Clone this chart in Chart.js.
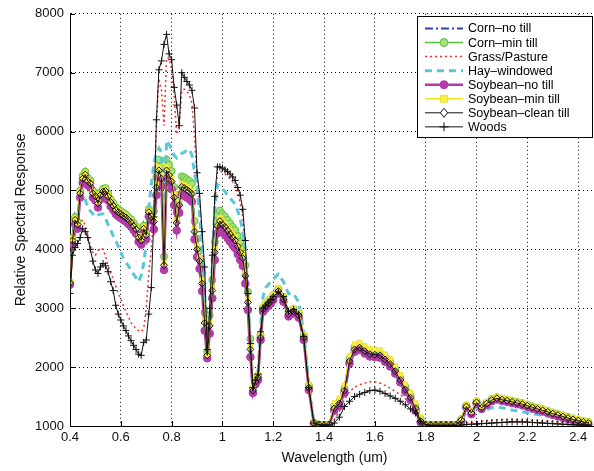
<!DOCTYPE html>
<html><head><meta charset="utf-8">
<script src="https://cdn.jsdelivr.net/npm/chart.js@4.4.0/dist/chart.umd.min.js"></script>
<style>html,body{margin:0;padding:0;background:#fff;overflow:hidden;}#wrap{width:594px;height:471px;overflow:hidden;}</style>
</head><body><div id="wrap"><canvas id="c" width="604" height="471"></canvas></div>
<script>
// Wavelength (um)
const wavelengths = [
0.40,0.41,0.42,0.43,0.44,0.45,0.46,0.47,0.48,0.49,
0.50,0.51,0.52,0.53,0.54,0.55,0.56,0.57,0.58,0.59,
0.60,0.61,0.62,0.63,0.64,0.65,0.66,0.67,0.68,0.69,
0.70,0.71,0.72,0.73,0.74,0.75,0.76,0.77,0.78,0.79,
0.80,0.81,0.82,0.83,0.84,0.85,0.86,0.87,0.88,0.89,
0.90,0.91,0.92,0.93,0.94,0.95,0.96,0.97,0.98,0.99,
1.00,1.01,1.02,1.03,1.04,1.05,1.06,1.07,1.08,1.09,
1.10,1.11,1.12,1.13,1.14,1.15,1.16,1.17,1.18,1.19,
1.20,1.22,1.24,1.26,1.28,1.30,1.32,1.34,1.36,1.38,
1.40,1.42,1.44,1.46,1.48,1.50,1.52,1.54,1.56,1.58,
1.60,1.62,1.64,1.66,1.68,1.70,1.72,1.74,1.76,1.78,
1.80,1.82,1.84,1.86,1.88,1.90,1.92,1.94,1.96,1.98,
2.00,2.02,2.04,2.06,2.08,2.10,2.12,2.14,2.16,2.18,
2.20,2.22,2.24,2.26,2.28,2.30,2.32,2.34,2.36,2.38,
2.40,2.42,2.44];

const cornNoTill = [
3460,4240,4590,4510,5040,5290,5360,5250,5210,5040,
4990,4870,5010,5070,5080,4990,4890,4830,4760,4720,
4690,4660,4630,4590,4550,4490,4430,4290,4240,4440,
4330,4720,4650,4590,5170,5460,5320,3800,5460,5380,
5270,5000,4570,4870,5180,5160,5130,5100,5060,4420,
4120,3920,3540,2870,2230,2820,3420,4070,4520,4600,
4540,4500,4440,4380,4320,4270,4170,4070,3970,3670,
3220,2420,1630,1780,1850,2530,3010,3060,3110,3150,
3210,3320,3180,2930,2980,2910,2530,1680,1055,1020,
1015,1020,1320,1400,1620,2120,2320,2350,2290,2240,
2230,2220,2150,2070,1950,1800,1640,1500,1320,1100,
1020,1015,1015,1015,1015,1015,1020,1110,1340,1230,
1410,1320,1390,1450,1480,1455,1440,1420,1400,1380,
1355,1325,1300,1275,1250,1220,1195,1170,1145,1120,
1100,1080,1060];

const cornMinTill = [
3440,4200,4550,4470,5000,5250,5320,5210,5170,5000,
4950,4830,4970,5030,5040,4950,4850,4790,4720,4680,
4650,4620,4590,4550,4510,4450,4390,4250,4200,4400,
4290,4680,4610,4650,5230,5520,5380,3880,5520,5440,
5330,5060,4630,4930,5240,5220,5190,5160,5120,4480,
4180,3980,3600,2930,2260,2880,3480,4130,4580,4660,
4600,4560,4500,4440,4380,4330,4230,4130,4030,3730,
3280,2480,1640,1790,1860,2540,3020,3070,3120,3160,
3220,3330,3190,2940,2990,2920,2540,1690,1060,1025,
1015,1025,1340,1420,1640,2140,2340,2370,2310,2260,
2250,2240,2170,2090,1970,1820,1660,1520,1340,1120,
1025,1020,1020,1020,1020,1020,1025,1120,1350,1240,
1420,1330,1400,1460,1490,1465,1450,1430,1410,1390,
1365,1335,1310,1285,1260,1230,1205,1180,1155,1130,
1110,1090,1070];

const grassPasture = [
3400,4000,4250,4350,4450,4500,4400,4250,4050,3950,
3900,3980,4020,4000,3880,3720,3600,3500,3380,3250,
3150,3050,2950,2850,2750,2700,2650,2620,2600,2650,
3000,3600,4000,4600,6100,6900,6700,6100,7250,7250,
7050,6600,5950,6100,6700,6720,6680,6620,6480,5900,
5200,4800,4200,3300,2300,2900,3800,4800,5300,5330,
5310,5280,5240,5200,5150,5080,4950,4800,4550,4000,
3250,2400,1650,1780,1880,2600,3000,3050,3100,3140,
3200,3280,3150,2920,2960,2880,2500,1650,1050,1020,
1015,1015,1100,1250,1450,1580,1660,1700,1730,1750,
1750,1730,1690,1640,1590,1530,1460,1380,1280,1100,
1020,1010,1010,1010,1010,1010,1015,1030,1050,1060,
1070,1080,1090,1100,1105,1110,1110,1110,1105,1100,
1100,1095,1090,1085,1080,1075,1070,1060,1050,1045,
1040,1035,1030];

const hayWindowed = [
3450,4100,4400,4500,4900,4950,4850,4700,4650,4600,
4550,4580,4600,4600,4520,4420,4330,4230,4150,4050,
3950,3850,3780,3720,3650,3580,3520,3450,3550,3750,
4100,4700,5100,5450,5650,5720,5650,4100,5850,5780,
5700,5600,5550,5600,5630,5650,5680,5700,5600,5300,
5050,4600,4000,3200,2300,2800,3700,4700,5100,5080,
5030,4980,4920,4870,4820,4770,4650,4520,4300,3800,
3200,2400,1700,1800,1900,2700,3200,3350,3400,3450,
3500,3580,3450,3250,3250,3100,2600,1700,1060,1020,
1015,1020,1280,1350,1550,2050,2250,2280,2220,2170,
2160,2150,2080,2000,1880,1730,1580,1440,1270,1070,
1020,1015,1015,1015,1015,1015,1020,1080,1250,1180,
1300,1250,1280,1310,1320,1310,1290,1270,1255,1240,
1225,1210,1195,1180,1165,1150,1130,1110,1090,1075,
1060,1050,1040];

const soybeanNoTill = [
3400,4080,4430,4350,4880,5130,5200,5090,5050,4880,
4830,4710,4850,4910,4920,4830,4730,4670,4600,4560,
4530,4500,4470,4430,4390,4330,4270,4130,4080,4280,
4170,4560,4490,4340,4920,5210,5070,3650,5210,5130,
5020,4750,4320,4620,4930,4910,4880,4850,4810,4170,
3870,3670,3290,2620,2150,2570,3170,3820,4270,4350,
4290,4250,4190,4130,4070,4020,3920,3820,3720,3420,
2970,2170,1560,1710,1780,2460,2940,2990,3040,3080,
3140,3250,3110,2860,2910,2840,2460,1610,1045,1015,
1010,1015,1260,1340,1560,2060,2260,2290,2230,2180,
2170,2160,2090,2010,1890,1740,1580,1440,1260,1060,
1015,1010,1010,1010,1010,1010,1015,1080,1310,1200,
1380,1290,1360,1420,1450,1425,1410,1390,1370,1350,
1325,1295,1270,1245,1220,1190,1165,1140,1115,1090,
1070,1050,1030];

const soybeanMinTill = [
3450,4180,4530,4450,4980,5230,5300,5190,5150,4980,
4930,4810,4950,5010,5020,4930,4830,4770,4700,4660,
4630,4600,4570,4530,4490,4430,4370,4230,4180,4380,
4270,4660,4590,4530,5110,5400,5260,3770,5400,5320,
5210,4940,4510,4810,5120,5100,5070,5040,5000,4360,
4060,3860,3480,2810,2210,2760,3360,4010,4460,4540,
4480,4440,4380,4320,4260,4210,4110,4010,3910,3610,
3160,2360,1660,1810,1880,2560,3040,3090,3140,3180,
3240,3350,3210,2960,3010,2940,2560,1710,1060,1025,
1020,1025,1390,1470,1690,2190,2390,2420,2360,2310,
2300,2290,2220,2140,2020,1870,1710,1570,1390,1150,
1030,1020,1020,1020,1020,1020,1030,1130,1360,1250,
1430,1340,1410,1470,1500,1475,1460,1440,1420,1400,
1375,1345,1320,1295,1270,1240,1215,1190,1165,1140,
1120,1100,1080];

const soybeanCleanTill = [
3430,4150,4500,4420,4950,5200,5270,5160,5120,4950,
4900,4780,4920,4980,4990,4900,4800,4740,4670,4630,
4600,4570,4540,4500,4460,4400,4340,4200,4150,4350,
4240,4630,4560,4470,5050,5340,5200,3730,5340,5260,
5150,4880,4450,4750,5060,5040,5010,4980,4940,4300,
4000,3800,3420,2750,2200,2700,3300,3950,4400,4480,
4420,4380,4320,4260,4200,4150,4050,3950,3850,3550,
3100,2300,1600,1750,1820,2500,2980,3030,3080,3120,
3180,3290,3150,2900,2950,2880,2500,1650,1050,1020,
1015,1020,1300,1380,1600,2100,2300,2330,2270,2220,
2210,2200,2130,2050,1930,1780,1620,1480,1300,1080,
1020,1015,1015,1015,1015,1015,1020,1100,1330,1220,
1400,1310,1380,1440,1470,1445,1430,1410,1390,1370,
1345,1315,1290,1265,1240,1210,1185,1160,1135,1110,
1090,1070,1050];

const woods = [
3250,3900,4030,4100,4200,4350,4300,4200,4000,3800,
3650,3590,3700,3760,3720,3620,3450,3300,3050,2900,
2800,2700,2620,2530,2450,2370,2300,2220,2200,2420,
2460,2900,3350,4550,6200,7050,7200,7480,7650,7320,
7220,6750,6450,6100,7000,6920,6850,6790,6700,6400,
5300,4950,4300,3700,2300,3000,3900,4900,5400,5400,
5380,5350,5320,5280,5230,5170,5050,4920,4680,4150,
3250,2400,1650,1780,1880,2600,3000,3050,3100,3150,
3200,3280,3200,2950,2980,2900,2520,1650,1050,1020,
1015,1015,1050,1150,1330,1420,1500,1540,1570,1600,
1610,1590,1550,1510,1470,1420,1360,1290,1220,1080,
1020,1010,1010,1010,1010,1010,1010,1015,1025,1030,
1035,1040,1045,1050,1055,1060,1065,1070,1070,1070,
1065,1060,1055,1050,1045,1040,1035,1030,1025,1020,
1020,1015,1015];

const seriesNames = ['Corn\u2013no till','Corn\u2013min till','Grass/Pasture','Hay\u2013windowed',
  'Soybean\u2013no till','Soybean\u2013min till','Soybean\u2013clean till','Woods'];
const xTickValues = [0.4,0.6,0.8,1.0,1.2,1.4,1.6,1.8,2.0,2.2,2.4];
const yTickValues = [1000,2000,3000,4000,5000,6000,7000,8000];

const FONT = '"Liberation Sans", Arial, Helvetica, sans-serif';
const toXY = arr => wavelengths.map((w,i)=>({x:w,y:arr[i]}));

const styles = [
  {data:cornNoTill, color:'#2b44a6', width:2, dash:[8,3,2,3], marker:null, order:7},
  {data:cornMinTill, color:'#58c43a', width:1.5, dash:[], marker:'circle', mfill:'#a6e07a', mr:3.5, order:6},
  {data:grassPasture, color:'#e6372e', width:1.5, dash:[2,3], marker:null, order:5},
  {data:hayWindowed, color:'#5ac6da', width:3, dash:[7,5], marker:null, order:4},
  {data:soybeanNoTill, color:'#b33aa8', width:2.5, dash:[], marker:'circle', mfill:'#b33aa8', mr:3.8, order:3},
  {data:soybeanMinTill, color:'#eee226', width:1.5, dash:[], marker:'rect', mfill:'#f6ee50', mr:3.2, order:2},
  {data:soybeanCleanTill, color:'#111', width:1, dash:[], marker:'rectRot', mfill:'rgba(0,0,0,0)', mr:3.5, order:1},
  {data:woods, color:'#111', width:1, dash:[], marker:'cross', mfill:'#111', mr:3.5, order:0}
];

const datasets = styles.map((s,i)=>({
  label: seriesNames[i],
  data: toXY(s.data),
  borderColor: s.color,
  borderWidth: s.width,
  borderDash: s.dash,
  pointStyle: s.marker || 'circle',
  pointRadius: s.marker ? s.mr : 0,
  pointBackgroundColor: s.marker ? s.mfill : s.color,
  pointBorderColor: s.color,
  pointBorderWidth: 1,
  tension: 0,
  fill: false,
  order: s.order
}));

const inwardTicks = {
  id:'inwardTicks',
  beforeDatasetsDraw(chart){
    const {ctx, chartArea:a, scales:{x,y}} = chart;
    ctx.save(); ctx.strokeStyle='#000'; ctx.lineWidth=1; ctx.beginPath();
    xTickValues.forEach(v=>{const p=Math.round(x.getPixelForValue(v))+0.5; ctx.moveTo(p,a.bottom); ctx.lineTo(p,a.bottom-5);});
    yTickValues.forEach(v=>{const p=Math.round(y.getPixelForValue(v))+0.5; ctx.moveTo(a.left,p); ctx.lineTo(a.left+5,p);});
    ctx.stroke(); ctx.restore();
  }
};

function drawMarker(ctx, type, cx, cy, r, stroke, fill){
  ctx.save(); ctx.setLineDash([]); ctx.lineWidth=1; ctx.strokeStyle=stroke; ctx.fillStyle=fill;
  ctx.beginPath();
  if(type==='circle'){ctx.arc(cx,cy,r,0,Math.PI*2); ctx.fill(); ctx.stroke();}
  else if(type==='rect'){ctx.rect(cx-r,cy-r,2*r,2*r); ctx.fill(); ctx.stroke();}
  else if(type==='rectRot'){ctx.moveTo(cx,cy-r);ctx.lineTo(cx+r*0.8,cy);ctx.lineTo(cx,cy+r);ctx.lineTo(cx-r*0.8,cy);ctx.closePath(); ctx.fillStyle='#fff'; ctx.fill(); ctx.stroke();}
  else if(type==='cross'){ctx.moveTo(cx,cy-r);ctx.lineTo(cx,cy+r);ctx.moveTo(cx-r,cy);ctx.lineTo(cx+r,cy);ctx.stroke();}
  ctx.restore();
}

const boxLegend = {
  id:'boxLegend',
  afterDraw(chart){
    const ctx = chart.ctx;
    const L=417, T=16, W=175, H=121;
    ctx.save();
    ctx.fillStyle='#fff'; ctx.fillRect(L,T,W,H);
    ctx.strokeStyle='#000'; ctx.lineWidth=1; ctx.strokeRect(L+0.5,T+0.5,W,H);
    ctx.font='12.5px '+FONT; ctx.textBaseline='middle'; ctx.textAlign='left';
    styles.forEach((s,i)=>{
      const yy = 28.5 + i*14.05;
      ctx.save(); ctx.strokeStyle=s.color; ctx.lineWidth=s.width; ctx.setLineDash(s.dash);
      ctx.beginPath(); ctx.moveTo(425,yy); ctx.lineTo(463,yy); ctx.stroke(); ctx.restore();
      if(s.marker) drawMarker(ctx, s.marker, 444, yy, s.marker==='circle'?4:(s.marker==='rect'?3.5:4.5), s.color, s.mfill);
      ctx.fillStyle='#000'; ctx.fillText(seriesNames[i], 468, yy+0.5);
    });
    ctx.restore();
  }
};

new Chart(document.getElementById('c'), {
  type:'line',
  data:{datasets},
  plugins:[inwardTicks, boxLegend],
  options:{
    responsive:false, animation:false, devicePixelRatio:1,
    layout:{padding:{top:13,right:0,left:0,bottom:0}},
    plugins:{legend:{display:false}, tooltip:{enabled:false}},
    elements:{line:{borderJoinStyle:'miter'}},
    scales:{
      x:{type:'linear', min:0.4, max:2.482,
        afterBuildTicks: s=>{ s.ticks = xTickValues.map(v=>({value:v})); },
        afterFit: s=>{ s.height = 45; },
        ticks:{color:'#111', font:{family:FONT,size:13}, padding:4, maxRotation:0, autoSkip:false,
          callback:v=>String(+Number(v).toFixed(1))},
        grid:{color:'#000', lineWidth:1, drawTicks:false},
        border:{display:true,color:'#000',width:1,dash:[1,3]},
        title:{display:true, text:'Wavelength (um)', color:'#111', font:{family:FONT,size:14}, padding:{top:0,bottom:4}}
      },
      y:{type:'linear', min:1000, max:8000,
        afterBuildTicks: s=>{ s.ticks = yTickValues.map(v=>({value:v})); },
        afterFit: s=>{ s.width = 70; },
        ticks:{color:'#111', font:{family:FONT,size:13}, padding:6, callback:v=>String(v)},
        grid:{color:'#000', lineWidth:1, drawTicks:false},
        border:{display:true,color:'#000',width:1,dash:[1,3]},
        title:{display:true, text:'Relative Spectral Response', color:'#111', font:{family:FONT,size:14}, padding:{top:13,bottom:0}}
      }
    }
  }
});
</script></body></html>
